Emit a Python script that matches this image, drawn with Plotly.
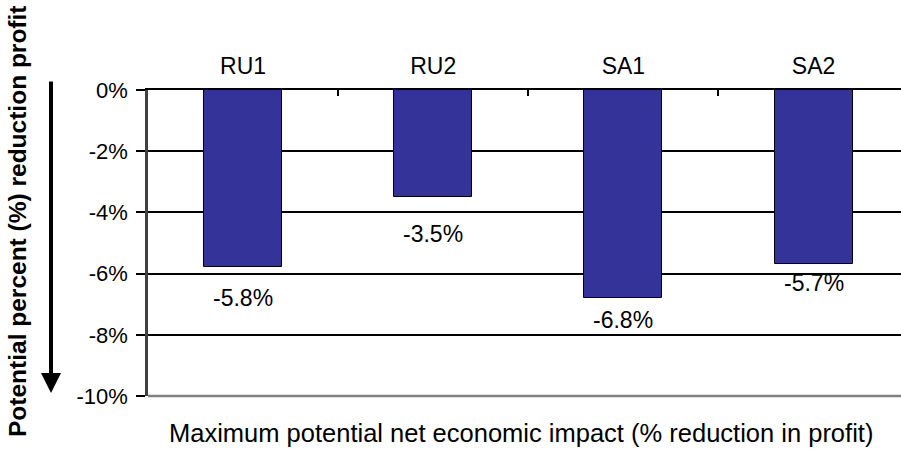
import plotly.graph_objects as go

categories = ["RU1", "RU2", "SA1", "SA2"]
values = [-5.8, -3.5, -6.8, -5.7]
data_labels = ["-5.8%", "-3.5%", "-6.8%", "-5.7%"]
y_tick_vals = [0, -2, -4, -6, -8, -10]
y_tick_text = ["0%", "-2%", "-4%", "-6%", "-8%", "-10%"]

# style: pixel gap between bar end and its label centre
label_gap_px = [31, 37, 22, 19]

FONT = "Arial, Liberation Sans, sans-serif"

fig = go.Figure()
fig.add_trace(go.Bar(
    x=categories, y=values, width=0.41,
    marker=dict(color="#333399", line=dict(color="#000000", width=1)),
    showlegend=False, hoverinfo="skip",
))

annotations = []
for c, v, t, g in zip(categories, values, data_labels, label_gap_px):
    annotations.append(dict(x=c, y=v, xref="x", yref="y", text=t, showarrow=False,
                            yanchor="middle", yshift=-g,
                            font=dict(family=FONT, size=23, color="#000000")))

# y-axis title
annotations.append(dict(xref="paper", yref="paper", x=-0.1726, y=0.572,
                        text="<b>Potential percent (%) reduction profit</b>", textangle=-90,
                        showarrow=False, xanchor="center", yanchor="middle",
                        font=dict(family=FONT, size=24.5, color="#000000")))
# x-axis title
annotations.append(dict(xref="paper", yref="paper", x=0.4954, y=-0.121,
                        text="Maximum potential net economic impact (% reduction in profit)",
                        showarrow=False, xanchor="center", yanchor="middle", borderpad=0,
                        font=dict(family=FONT, size=25.5, color="#000000")))
# arrow
annotations.append(dict(xref="paper", yref="paper", x=-0.1288, y=0.0098,
                        ax=0, ay=-313, text="", showarrow=True,
                        arrowhead=2, arrowsize=1, arrowwidth=4, arrowcolor="#000000"))

fig.update_layout(
    width=901, height=450,
    margin=dict(l=148, r=0, t=90, b=54),
    paper_bgcolor="white", plot_bgcolor="white",
    bargap=0,
    annotations=annotations,
    shapes=[dict(type="line", xref="paper", yref="paper", x0=0, x1=1, y0=0, y1=0,
                 line=dict(color="#808080", width=2.5), layer="above")],
    xaxis=dict(side="top", range=[-0.5, 3.46], showgrid=False,
               showline=True, linecolor="#000000", linewidth=1.5,
               ticks="inside", ticklen=6, tickcolor="#000000", tickwidth=1.5,
               tickson="boundaries", ticklabelstandoff=5,
               tickfont=dict(family=FONT, size=23, color="#000000")),
    yaxis=dict(range=[-10, 0], tickvals=y_tick_vals, ticktext=y_tick_text,
               showgrid=True, gridcolor="#000000", gridwidth=1.5, zeroline=False,
               showline=True, linecolor="#404040", linewidth=2.5,
               ticks="outside", ticklen=9, tickcolor="#000000", tickwidth=1.5,
               ticklabelstandoff=4,
               tickfont=dict(family=FONT, size=22, color="#000000")),
)

fig.write_html("out.html", config={"displayModeBar": False},
               post_script="document.body.style.margin='0';document.body.style.overflow='hidden';")
